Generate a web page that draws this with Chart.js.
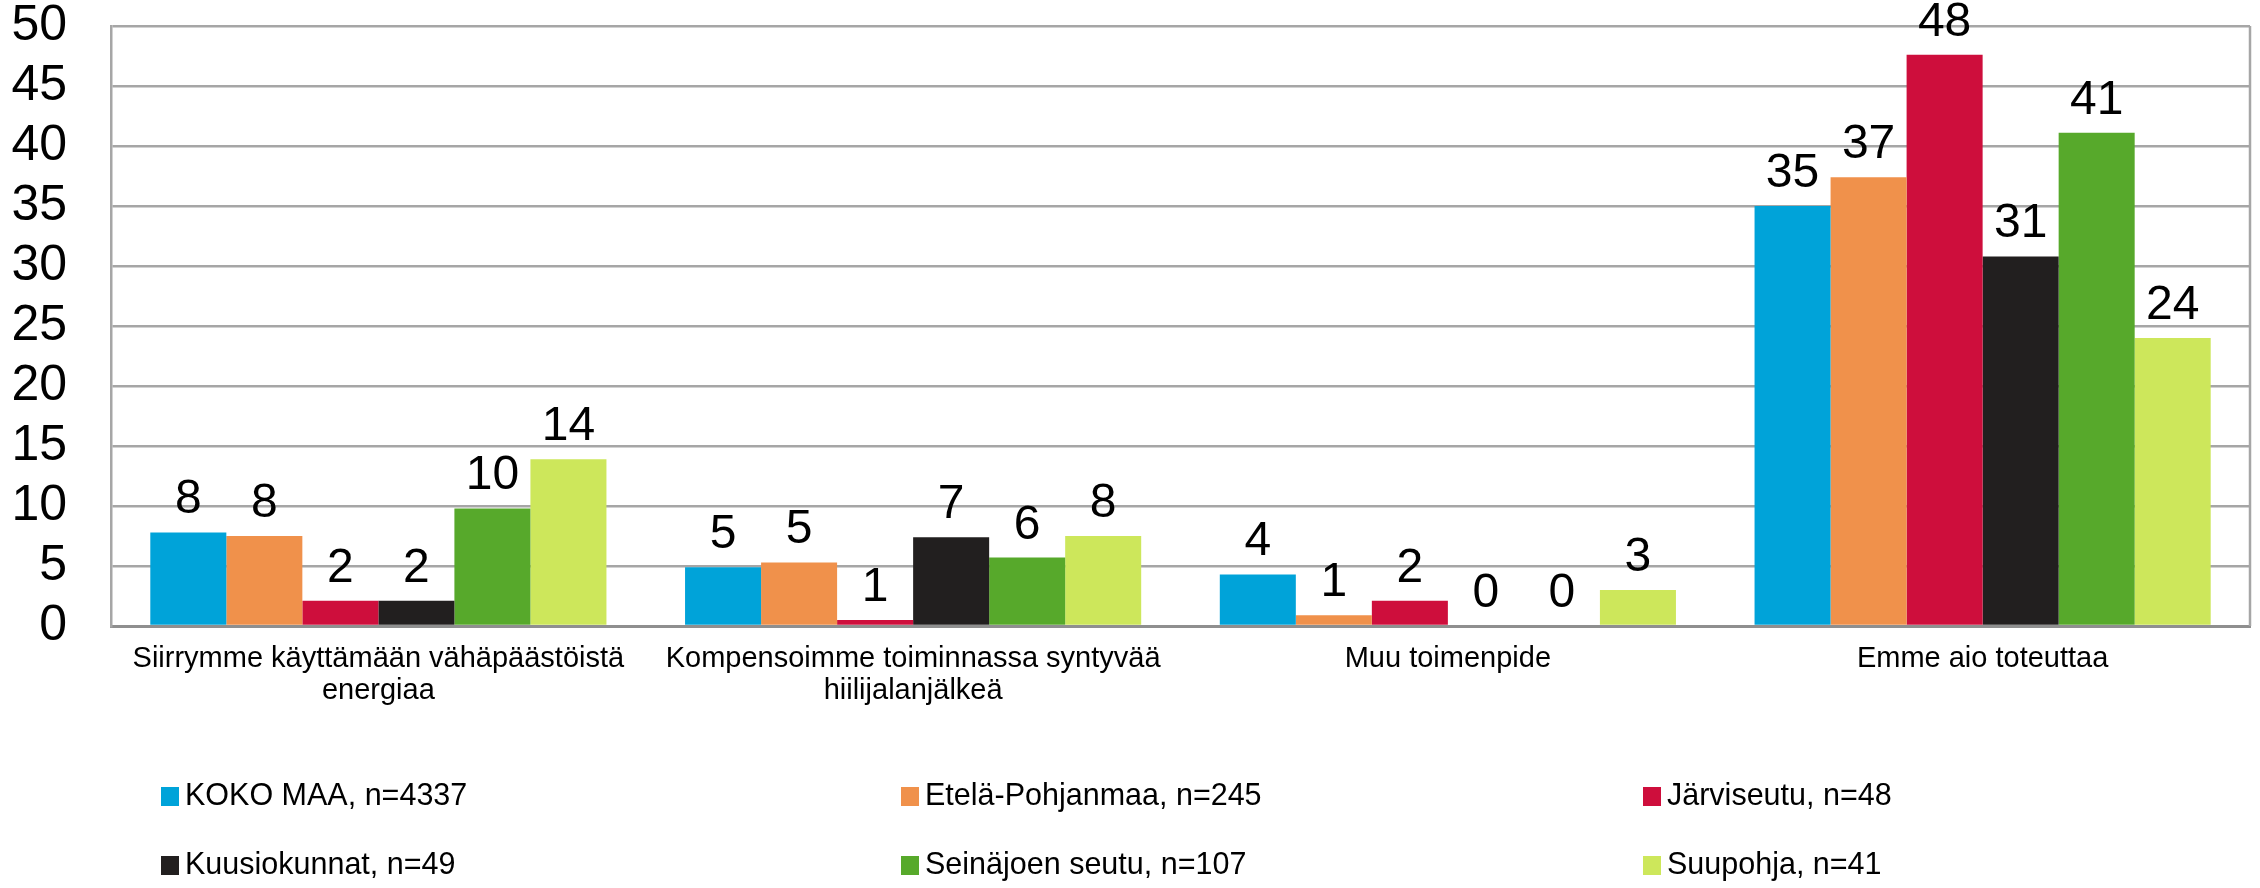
<!DOCTYPE html>
<html>
<head>
<meta charset="utf-8">
<style>
    html, body { margin: 0; padding: 0; background: #fff; }
    #wrap { width: 2260px; height: 888px; position: relative; }
</style>
<script src="https://cdn.jsdelivr.net/npm/chart.js@4/dist/chart.umd.min.js"></script>
</head>
<body>
<div id="wrap"><canvas id="chart"></canvas></div>
<script>
const categories = [
    ['Siirrymme käyttämään vähäpäästöistä', 'energiaa'],
    ['Kompensoimme toiminnassa syntyvää', 'hiilijalanjälkeä'],
    'Muu toimenpide',
    'Emme aio toteuttaa'
];
const seriesNames = [
    'KOKO MAA, n=4337',
    'Etelä-Pohjanmaa, n=245',
    'Järviseutu, n=48',
    'Kuusiokunnat, n=49',
    'Seinäjoen seutu, n=107',
    'Suupohja, n=41'
];
const kokoMaa = [7.8, 4.9, 4.3, 35.0];
const etelaPohjanmaa = [7.5, 5.3, 0.9, 37.4];
const jarviseutu = [2.1, 0.5, 2.1, 47.6];
const kuusiokunnat = [2.1, 7.4, 0, 30.8];
const seinajoenSeutu = [9.8, 5.7, 0, 41.1];
const suupohja = [13.9, 7.5, 3.0, 24.0];
const yTicks = [0, 5, 10, 15, 20, 25, 30, 35, 40, 45, 50];

const colors = ['#00A3D9', '#F0914B', '#CE0E3C', '#221F1F', '#57A92B', '#CDE75B'];
const FONT = '"Liberation Sans", Arial, sans-serif';

const seriesValues = [kokoMaa, etelaPohjanmaa, jarviseutu, kuusiokunnat, seinajoenSeutu, suupohja];

// value labels above each bar
const barLabels = {
    id: 'barLabels',
    afterDatasetsDraw(chart) {
        const ctx = chart.ctx;
        ctx.save();
        ctx.font = '48px ' + FONT;
        ctx.fillStyle = '#000';
        ctx.textAlign = 'center';
        ctx.textBaseline = 'alphabetic';
        chart.data.datasets.forEach((ds, i) => {
            chart.getDatasetMeta(i).data.forEach((bar, j) => {
                ctx.fillText(String(Math.round(ds.data[j])), bar.x, bar.y - 19);
            });
        });
        ctx.restore();
    }
};

// right edge of the plot frame
const frame = {
    id: 'frame',
    beforeDatasetsDraw(chart) {
        const { ctx, chartArea } = chart;
        ctx.save();
        ctx.strokeStyle = '#A6A6A6';
        ctx.lineWidth = 2.5;
        ctx.beginPath();
        ctx.moveTo(chartArea.right, chartArea.top);
        ctx.lineTo(chartArea.right, chartArea.bottom);
        ctx.stroke();
        ctx.restore();
    }
};

// legend in three columns, two rows
const gridLegend = {
    id: 'gridLegend',
    afterDraw(chart) {
        const ctx = chart.ctx;
        const colX = [161, 901, 1643];
        const rowY = [chart.chartArea.bottom + 171, chart.chartArea.bottom + 240];
        ctx.save();
        ctx.font = '30.5px ' + FONT;
        ctx.textBaseline = 'middle';
        ctx.textAlign = 'left';
        chart.data.datasets.forEach((ds, i) => {
            const x = colX[i % 3];
            const y = rowY[Math.floor(i / 3)];
            ctx.fillStyle = ds.backgroundColor;
            ctx.fillRect(x, y - 10, 18, 19);
            ctx.fillStyle = '#000';
            ctx.fillText(ds.label, x + 24, y);
        });
        ctx.restore();
    }
};

new Chart(document.getElementById('chart'), {
    type: 'bar',
    data: {
        labels: categories,
        datasets: seriesNames.map((name, i) => ({
            label: name,
            data: seriesValues[i],
            backgroundColor: colors[i],
            borderWidth: 0,
            categoryPercentage: 0.853,
            barPercentage: 1
        }))
    },
    options: {
        responsive: true,
        maintainAspectRatio: false,
        animation: false,
        layout: { padding: { top: 26, right: 10, left: 0, bottom: 0 } },
        plugins: {
            legend: { display: false },
            tooltip: { enabled: false }
        },
        scales: {
            x: {
                grid: { display: false, drawTicks: false },
                border: { color: '#8F8F8F', width: 3 },
                ticks: {
                    color: '#000',
                    font: { family: FONT, size: 29, lineHeight: 1.1 },
                    padding: 17,
                    maxRotation: 0,
                    autoSkip: false
                },
                afterFit: (scale) => {
                    scale.height = 262;
                    scale.paddingLeft = 0;
                    scale.paddingRight = 0;
                }
            },
            y: {
                min: 0,
                max: 50,
                afterBuildTicks: (scale) => { scale.ticks = yTicks.map(v => ({ value: v })); },
                grid: { color: '#A6A6A6', lineWidth: 2.5, drawTicks: false },
                border: { color: '#A6A6A6', width: 2.5 },
                ticks: {
                    color: '#000',
                    font: { family: FONT, size: 50 },
                    padding: 44,
                    autoSkip: false
                },
                afterFit: (scale) => {
                    scale.width = 111;
                    scale.paddingTop = 0;
                    scale.paddingBottom = 0;
                }
            }
        }
    },
    plugins: [frame, barLabels, gridLegend]
});
</script>
</body>
</html>
